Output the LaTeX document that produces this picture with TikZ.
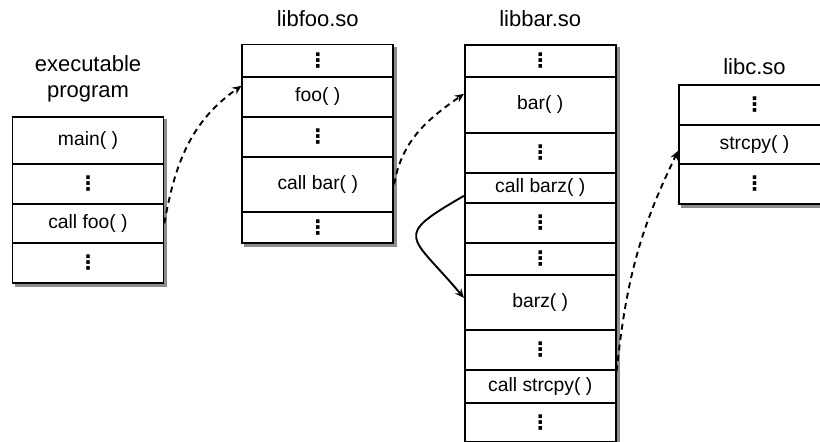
\documentclass[tikz,border=0pt]{standalone}
\usepackage{fontspec}
\setmainfont{Liberation Sans}
\newfontfamily\dotsfont{DejaVu Sans Bold}
\usetikzlibrary{arrows.meta,backgrounds}

\definecolor{shade}{gray}{0.55}

\tikzset{
  cell/.style={draw, fill=white, line width=1.7pt, rectangle, anchor=north,
    minimum width=151pt, inner sep=0pt, font=\fontsize{19.3}{22}\selectfont},
  title/.style={anchor=base, align=center, font=\fontsize{22}{25.5}\selectfont},
  call/.style={line width=1.9pt, dash pattern=on 6pt off 4.5pt,
    -{Stealth[length=9pt,width=8pt,inset=3pt]}},
  jump/.style={line width=1.9pt, -{Stealth[length=9pt,width=8pt,inset=3pt]}},
  shadowbox/.style={fill=shade}
}
\newcommand{\vd}{{\dotsfont\fontsize{20}{22}\selectfont ⋮}}

\begin{document}
\begin{tikzpicture}[x=1pt,y=-1pt]
\useasboundingbox (0,0) rectangle (820,442);
\clip (0,0) rectangle (820,442);

% executable program
\node[title] (exetitle) at (88,97) {executable\\program};
\node[cell, minimum height=47pt] (main)  at (88,116) {main( )};
\node[cell, minimum height=40pt] (e1)    at (88,163) {\vd};
\node[cell, minimum height=39pt] (cfoo)  at (88,203) {call foo( )};
\node[cell, minimum height=40pt] (e2)    at (88,242) {\vd};

% libfoo.so
\node[title] (footitle) at (317.75,26.5) {libfoo.so};
\node[cell, minimum height=32.5pt] (f1)   at (317.75,43.5) {\vd};
\node[cell, minimum height=40pt]   (foo)  at (317.75,76)   {foo( )};
\node[cell, minimum height=40pt]   (f2)   at (317.75,116)  {\vd};
\node[cell, minimum height=55pt]   (cbar) at (317.75,156)  {call bar( )};
\node[cell, minimum height=31pt]   (f3)   at (317.75,211)  {\vd};

% libbar.so
\node[title] (bartitle) at (540.25,26) {libbar.so};
\node[cell, minimum height=32pt] (b1)    at (540.25,44)  {\vd};
\node[cell, minimum height=56pt] (bar)   at (540.25,76)  {bar( )};
\node[cell, minimum height=40pt] (b2)    at (540.25,132) {\vd};
\node[cell, minimum height=30pt] (cbarz) at (540.25,172) {call barz( )};
\node[cell, minimum height=40pt] (b3)    at (540.25,202) {\vd};
\node[cell, minimum height=32pt] (b4)    at (540.25,242) {\vd};
\node[cell, minimum height=55pt] (barz)  at (540.25,274) {barz( )};
\node[cell, minimum height=40pt] (b5)    at (540.25,329) {\vd};
\node[cell, minimum height=33pt] (cstr)  at (540.25,369) {call strcpy( )};
\node[cell, minimum height=39pt] (b6)    at (540.25,402) {\vd};

% libc.so
\node[title] (ctitle) at (754.5,74) {libc.so};
\node[cell, minimum height=40pt] (c1)  at (754.5,84)  {\vd};
\node[cell, minimum height=39pt] (str) at (754.5,124) {strcpy( )};
\node[cell, minimum height=40pt] (c2)  at (754.5,163) {\vd};

% drop shadows behind each module
\begin{scope}[on background layer]
  \fill[shadowbox] ([shift={(3pt,-3pt)}]main.north west) rectangle ([shift={(3pt,-3pt)}]e2.south east);
  \fill[shadowbox] ([shift={(3pt,-3pt)}]f1.north west) rectangle ([shift={(3pt,-3pt)}]f3.south east);
  \fill[shadowbox] ([shift={(3pt,-3pt)}]b1.north west) rectangle ([shift={(3pt,-3pt)}]b6.south east);
  \fill[shadowbox] ([shift={(3pt,-3pt)}]c1.north west) rectangle ([shift={(3pt,-3pt)}]c2.south east);
\end{scope}

% calls between modules
\draw[call] (cfoo.east) to[out=80,in=215] ([yshift=11pt]foo.west);
\draw[call] (cbar.east) to[out=80,in=215] ([yshift=11pt]bar.west);
\draw[jump] ([yshift=-8pt]cbarz.west) to[out=210,in=130,looseness=2.1] ([yshift=4.5pt]barz.west);
\draw[call] ([yshift=15pt]cstr.east) to[out=84,in=244] ([yshift=-6.5pt]str.west);
\end{tikzpicture}
\end{document}
